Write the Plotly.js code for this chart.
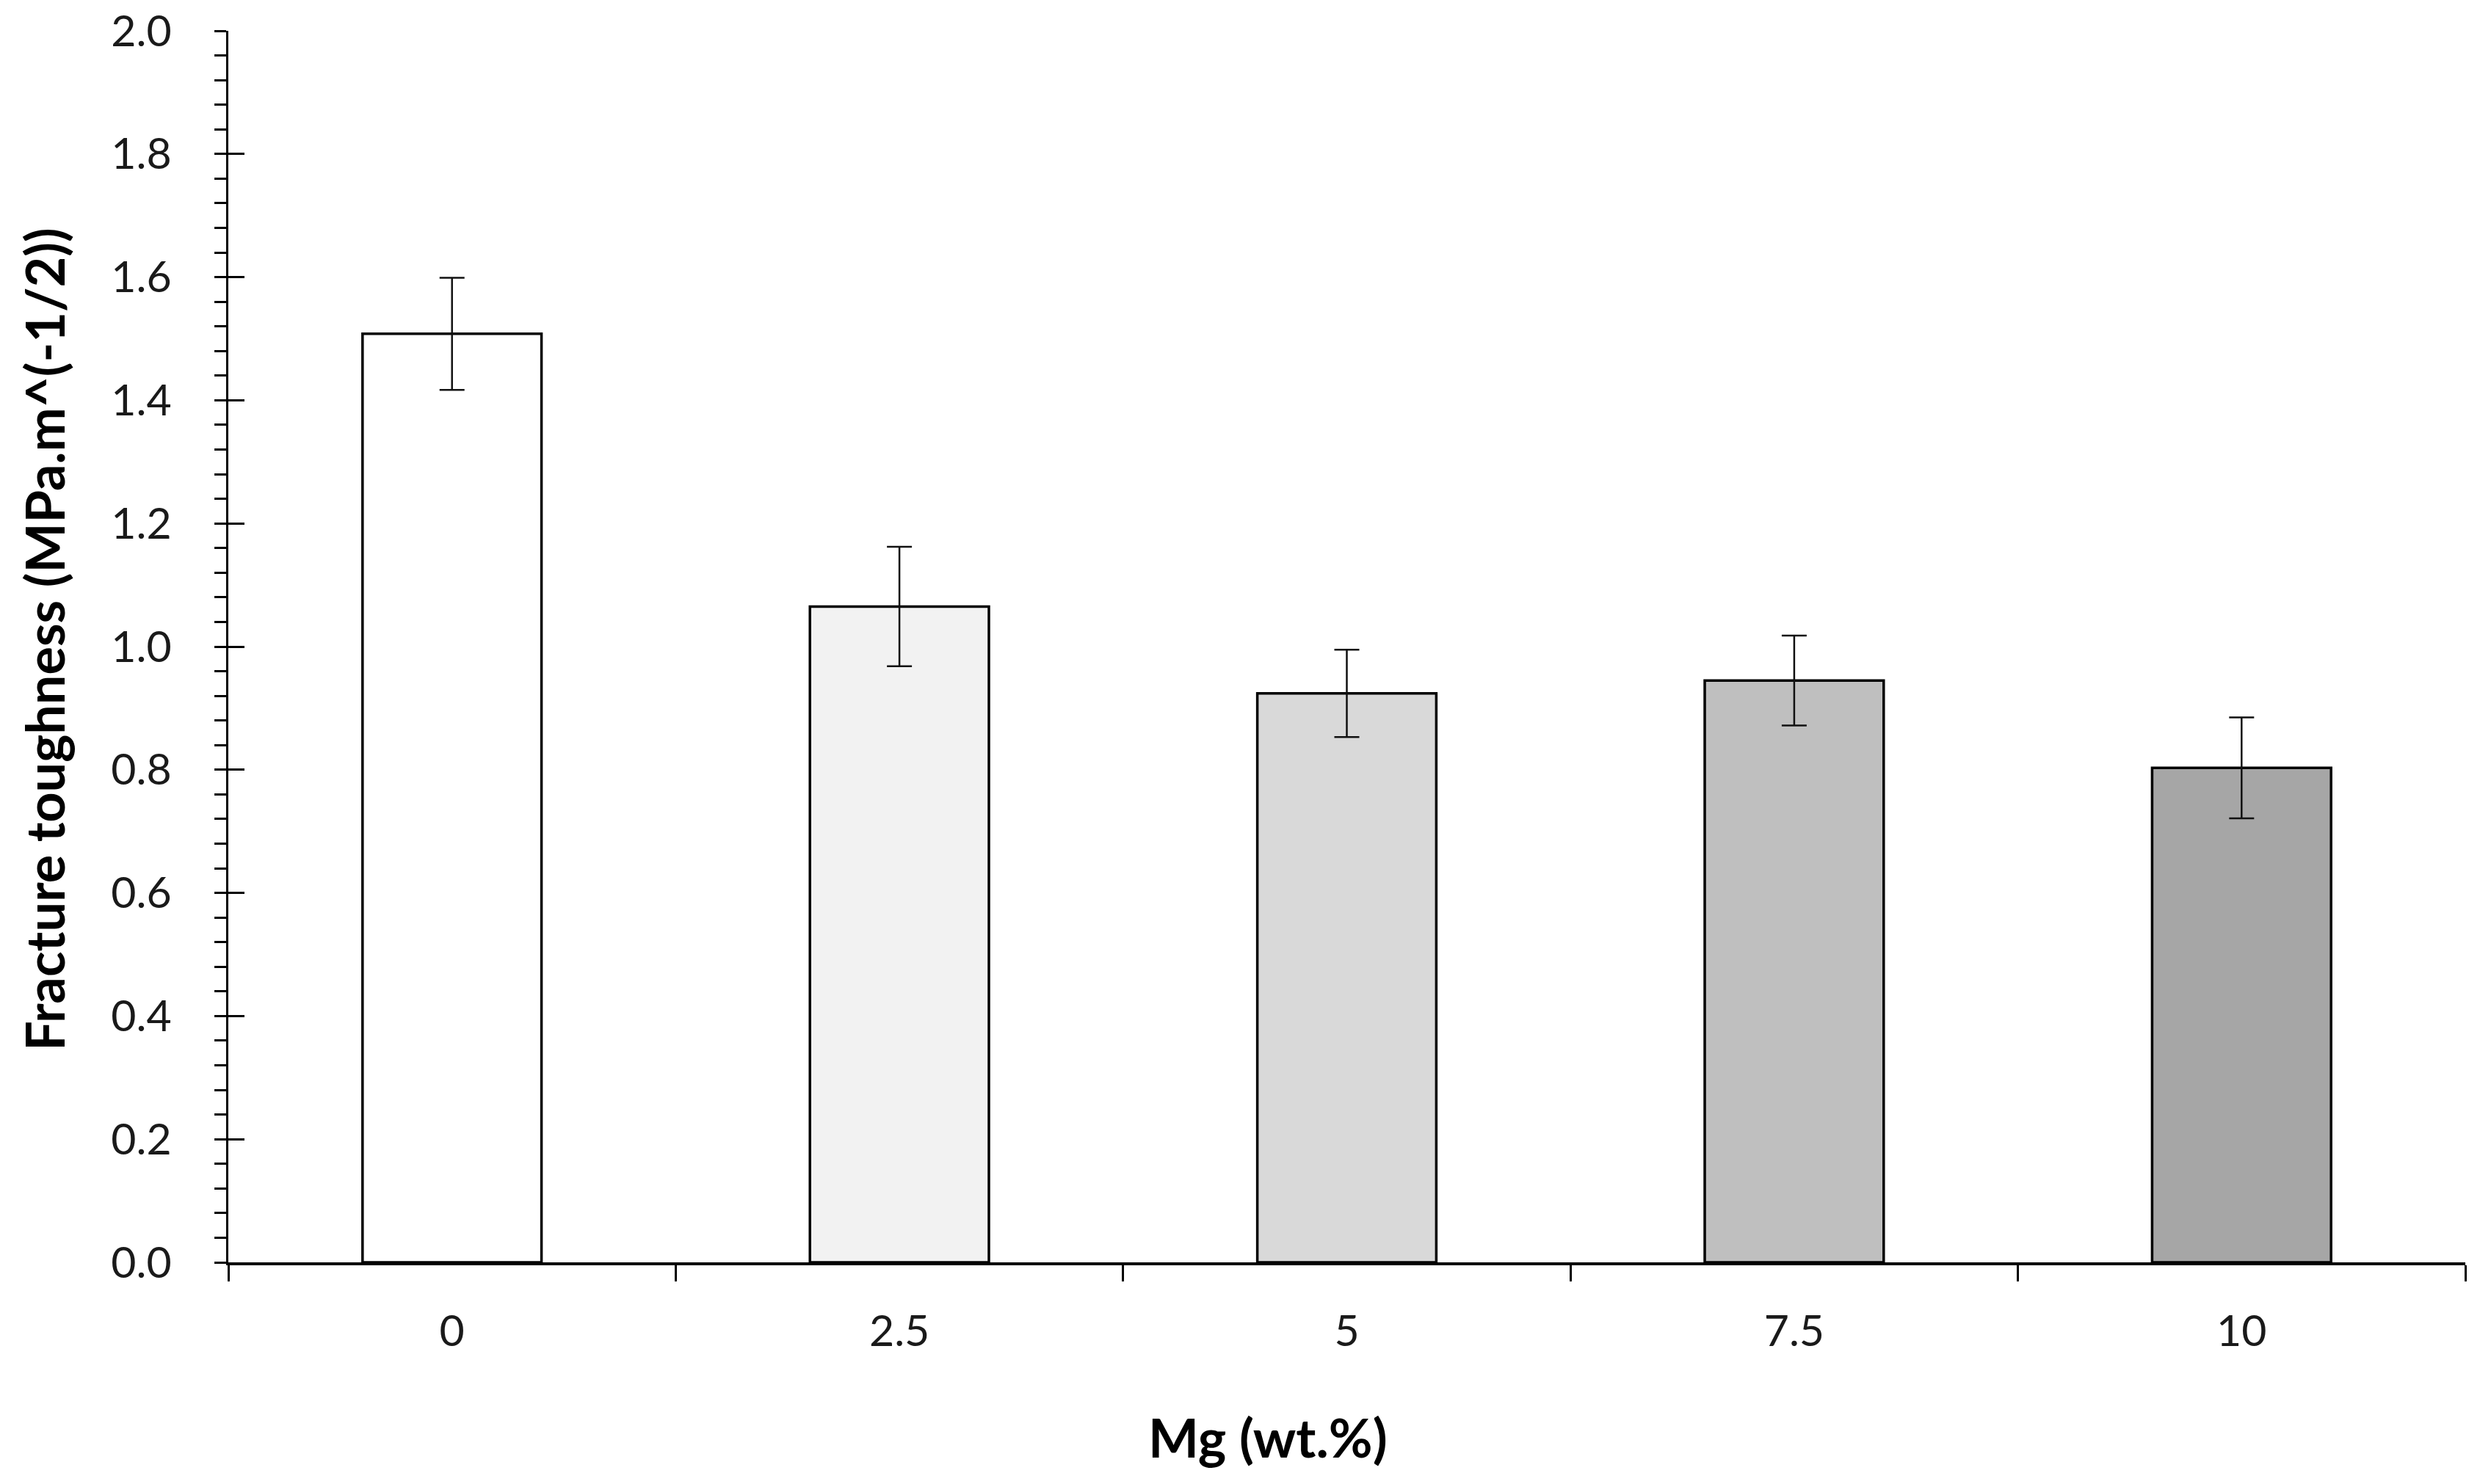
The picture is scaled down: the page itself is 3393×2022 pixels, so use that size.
<!DOCTYPE html>
<html>
<head>
<meta charset="utf-8">
<script src="https://cdn.plot.ly/plotly-3.0.1.min.js"></script>
<style>html,body{margin:0;padding:0;background:#fff;}#chart{width:3393px;height:2022px;}</style>
</head>
<body>
<div id="chart"></div>
<script>
const categories = ["0", "2.5", "5", "7.5", "10"];
const toughness = [1.508, 1.065, 0.924, 0.945, 0.803];
const errors = [0.091, 0.097, 0.071, 0.073, 0.082];
const barColors = ["#ffffff", "#f2f2f2", "#d9d9d9", "#bfbfbf", "#a6a6a6"];
const yTickVals = [0, 0.2, 0.4, 0.6, 0.8, 1.0, 1.2, 1.4, 1.6, 1.8, 2.0];
const yTickText = yTickVals.map(v => v.toFixed(1));
const xTitle = "Mg (wt.%)";
const yTitle = "Fracture toughness (MPa.m^(-1/2))";

const font = "Lato, 'Open Sans', sans-serif";

const trace = {
  type: "bar",
  x: categories,
  y: toughness,
  marker: { color: barColors, line: { color: "#000000", width: 3.5 } },
  error_y: { type: "data", array: errors, visible: true, color: "#111111", thickness: 2.5, width: 17 },
  hoverinfo: "none"
};

const layout = {
  width: 3393,
  height: 2022,
  margin: { l: 311, r: 35, t: 42, b: 302, pad: 0 },
  paper_bgcolor: "#ffffff",
  plot_bgcolor: "#ffffff",
  showlegend: false,
  bargap: 0.6,
  font: { family: font, color: "#000000", size: 58 },
  xaxis: {
    type: "category",
    showline: true, linecolor: "#000000", linewidth: 3.5,
    ticks: "outside", tickson: "boundaries", ticklen: 22, tickwidth: 3, tickcolor: "#000000",
    ticklabelstandoff: 40,
    showgrid: false, zeroline: false,
    tickfont: { family: font, size: 59, color: "#1a1a1a" }
  },
  yaxis: {
    range: [0, 2], autorange: false,
    showline: true, linecolor: "#000000", linewidth: 3.5,
    tickmode: "array", tickvals: yTickVals, ticktext: yTickText,
    ticks: "outside", ticklen: 16, tickwidth: 3, tickcolor: "#000000",
    minor: { dtick: 0.04, ticks: "outside", ticklen: 16, tickwidth: 3, tickcolor: "#000000", showgrid: false },
    ticklabelstandoff: 46,
    showgrid: false, zeroline: false,
    tickfont: { family: font, size: 59, color: "#1a1a1a" }
  },
  yaxis2: {
    overlaying: "y", side: "left", range: [0, 2], autorange: false,
    tickmode: "array", tickvals: yTickVals,
    ticks: "inside", ticklen: 22, tickwidth: 3, tickcolor: "#000000",
    showticklabels: false, showline: false, showgrid: false, zeroline: false
  },
  annotations: [
    { text: "<b>" + xTitle + "</b>", xref: "paper", yref: "paper", x: 0.4647, y: -0.1418,
      xanchor: "center", yanchor: "middle", showarrow: false, font: { family: font, size: 73, color: "#000000" } },
    { text: "<b>" + yTitle + "</b>", xref: "paper", yref: "paper", x: -0.0824, y: 0.506,
      xanchor: "center", yanchor: "middle", textangle: -90, showarrow: false, font: { family: font, size: 72, color: "#000000" } }
  ]
};

const dummy = { type: "scatter", x: [categories[0]], y: [0], yaxis: "y2", mode: "markers", marker: { opacity: 0 }, hoverinfo: "none" };

Plotly.newPlot("chart", [trace, dummy], layout, { staticPlot: true, displayModeBar: false });
</script>
</body>
</html>
